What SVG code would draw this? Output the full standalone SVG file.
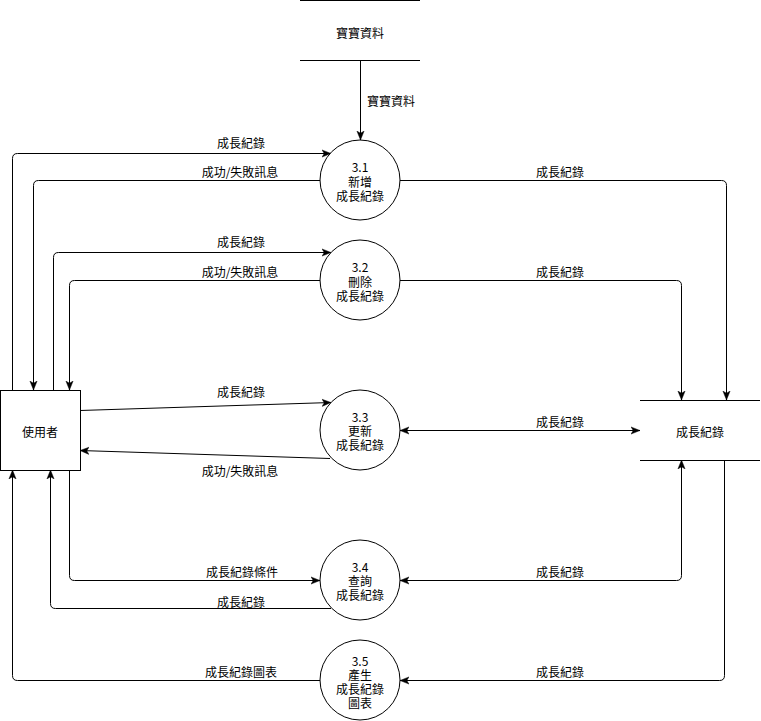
<svg xmlns="http://www.w3.org/2000/svg" width="761" height="721" viewBox="0 0 761 721">
  <style>
    text { font-family: "Noto Sans CJK TC", "Liberation Sans", sans-serif; font-size: 12px; fill: #000; text-anchor: middle; dominant-baseline: central; }
    .proc { fill: #fff; stroke: #000; stroke-width: 1; }
    .box { fill: #fff; stroke: #000; stroke-width: 1; }
    .store { stroke: #000; stroke-width: 1; fill: none; }
    .flow { fill: none; stroke: #000; stroke-width: 1; }
    .out { marker-end: url(#arrow); }
    .both { marker-start: url(#arrow); marker-end: url(#arrow); }
  </style>
  <defs>
    <marker id="arrow" viewBox="0 0 10 10" refX="10" refY="5" markerWidth="9" markerHeight="9" markerUnits="userSpaceOnUse" orient="auto-start-reverse">
      <path d="M0,1 L10,5 L0,9 L2.5,5 z" fill="#000" stroke="#000" stroke-width="0.5"/>
    </marker>
  </defs>
  <rect width="761" height="721" fill="#fff"/>

  <!-- data flows -->
  <g id="connectors">
    <!-- store 寶寶資料 -> 3.1 -->
    <path class="flow out" d="M360.5,60 V140"/>
    <text x="391" y="100">寶寶資料</text>

    <!-- 使用者 <-> 3.1 -->
    <path class="flow out" d="M12.5,390 V158.5 Q12.5,153.5 17.5,153.5 H331"/>
    <text x="241" y="142">成長紀錄</text>
    <path class="flow out" d="M320,180.5 H38.5 Q33.5,180.5 33.5,185.5 V390"/>
    <text x="240" y="171">成功/失敗訊息</text>

    <!-- 使用者 <-> 3.2 -->
    <path class="flow out" d="M53.5,390 V257.5 Q53.5,252.5 58.5,252.5 H331"/>
    <text x="241" y="241">成長紀錄</text>
    <path class="flow out" d="M320,280.5 H74.5 Q69.5,280.5 69.5,285.5 V390"/>
    <text x="240" y="271">成功/失敗訊息</text>

    <!-- 使用者 <-> 3.3 -->
    <path class="flow out" d="M80,410.5 L331,402.5"/>
    <text x="241" y="391">成長紀錄</text>
    <path class="flow out" d="M330,458.5 L80,450.5"/>
    <text x="240" y="470">成功/失敗訊息</text>

    <!-- 使用者 <-> 3.4 -->
    <path class="flow out" d="M69.5,470 V575.5 Q69.5,580.5 74.5,580.5 H320"/>
    <text x="242" y="571">成長紀錄條件</text>
    <path class="flow out" d="M331,608.5 H55.5 Q50.5,608.5 50.5,603.5 V470"/>
    <text x="241" y="601">成長紀錄</text>

    <!-- 3.5 -> 使用者 -->
    <path class="flow out" d="M320,680.5 H17.5 Q12.5,680.5 12.5,675.5 V470"/>
    <text x="241" y="671">成長紀錄圖表</text>

    <!-- processes <-> store 成長紀錄 -->
    <path class="flow out" d="M400,180.5 H721.5 Q726.5,180.5 726.5,185.5 V400"/>
    <text x="560" y="171">成長紀錄</text>
    <path class="flow out" d="M400,280.5 H676.5 Q681.5,280.5 681.5,285.5 V400"/>
    <text x="560" y="271">成長紀錄</text>
    <path class="flow both" d="M400,430.5 H640"/>
    <text x="560" y="421">成長紀錄</text>
    <path class="flow both" d="M681.5,460 V575.5 Q681.5,580.5 676.5,580.5 H400"/>
    <text x="560" y="571">成長紀錄</text>
    <path class="flow out" d="M724.5,460 V675.5 Q724.5,680.5 719.5,680.5 H400"/>
    <text x="560" y="671">成長紀錄</text>
  </g>

  <!-- external entity -->
  <g id="user">
    <rect class="box" x="0.5" y="390.5" width="80" height="80"/>
    <text x="40" y="431">使用者</text>
  </g>

  <!-- data stores -->
  <g id="store-baby">
    <path class="store" d="M300,0.5 H420 M300,60.5 H420"/>
    <text x="360" y="32">寶寶資料</text>
  </g>
  <g id="store-growth">
    <path class="store" d="M640,400.5 H760 M640,460.5 H760"/>
    <text x="700" y="431">成長紀錄</text>
  </g>

  <!-- processes -->
  <g id="p31">
    <circle class="proc" cx="360" cy="180" r="40"/>
    <text x="360" y="166"><tspan x="360">3.1</tspan><tspan x="360" dy="15">新增</tspan><tspan x="360" dy="14">成長紀錄</tspan></text>
  </g>
  <g id="p32">
    <circle class="proc" cx="360" cy="280" r="40"/>
    <text x="360" y="266"><tspan x="360">3.2</tspan><tspan x="360" dy="15">刪除</tspan><tspan x="360" dy="14">成長紀錄</tspan></text>
  </g>
  <g id="p33">
    <circle class="proc" cx="360" cy="430" r="40"/>
    <text x="360" y="416"><tspan x="360">3.3</tspan><tspan x="360" dy="14">更新</tspan><tspan x="360" dy="14">成長紀錄</tspan></text>
  </g>
  <g id="p34">
    <circle class="proc" cx="360" cy="580" r="40"/>
    <text x="360" y="566"><tspan x="360">3.4</tspan><tspan x="360" dy="14">查詢</tspan><tspan x="360" dy="14">成長紀錄</tspan></text>
  </g>
  <g id="p35">
    <circle class="proc" cx="360" cy="680" r="40"/>
    <text x="360" y="660"><tspan x="360">3.5</tspan><tspan x="360" dy="14">產生</tspan><tspan x="360" dy="14">成長紀錄</tspan><tspan x="360" dy="14">圖表</tspan></text>
  </g>
</svg>
